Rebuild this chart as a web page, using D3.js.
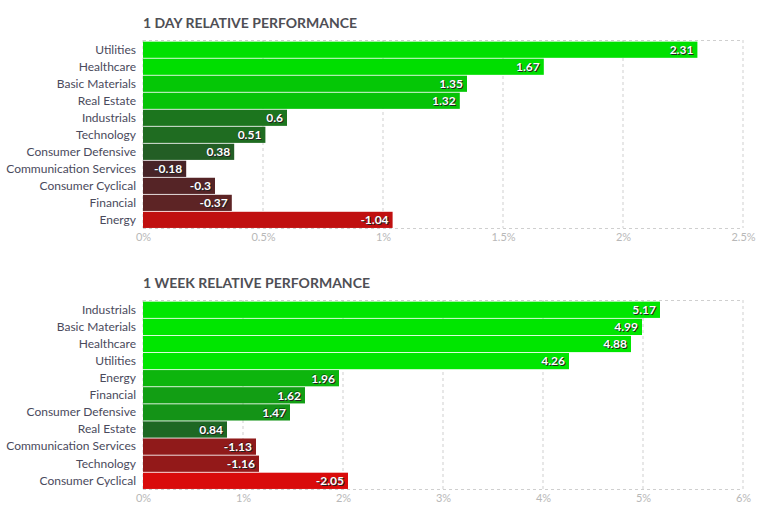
<!DOCTYPE html>
<html><head><meta charset="utf-8">
<script src="https://cdn.jsdelivr.net/npm/d3@7"></script>
<style>
body{margin:0;background:#fff;}
svg text{font-family:Lato,"Open Sans",sans-serif;}
</style></head>
<body><svg id="c" width="777" height="515"></svg>
<script>
// ---- data ----
const dayCategories = ["Utilities","Healthcare","Basic Materials","Real Estate","Industrials","Technology","Consumer Defensive","Communication Services","Consumer Cyclical","Financial","Energy"];
const dayValues = [2.31,1.67,1.35,1.32,0.6,0.51,0.38,-0.18,-0.3,-0.37,-1.04];
const dayTicks = [0,0.5,1,1.5,2,2.5];
const dayTickLabels = ["0%","0.5%","1%","1.5%","2%","2.5%"];

const weekCategories = ["Industrials","Basic Materials","Healthcare","Utilities","Energy","Financial","Consumer Defensive","Real Estate","Communication Services","Technology","Consumer Cyclical"];
const weekValues = [5.17,4.99,4.88,4.26,1.96,1.62,1.47,0.84,-1.13,-1.16,-2.05];
const weekTicks = [0,1,2,3,4,5,6];
const weekTickLabels = ["0%","1%","2%","3%","4%","5%","6%"];

// ---- drawing ----
const svg = d3.select("#c");

function drawChart(cfg){
  const g = svg.append("g");
  const x = d3.scaleLinear().domain([0, cfg.max]).range([143, 743]);
  const y = d3.scaleBand().domain(cfg.categories).range([cfg.top+0.8, cfg.bottom+0.8]).paddingInner(0.05).paddingOuter(0.05);
  const posColor = d3.scaleLinear().domain(cfg.posDomain).range(cfg.posRange).clamp(true);
  const negColor = d3.scaleLinear().domain(cfg.negDomain).range(cfg.negRange).clamp(true);

  g.append("text").attr("x",143).attr("y",cfg.top-12)
    .attr("font-size",14).attr("font-weight","bold").attr("fill","#4f4f55")
    .text(cfg.title);

  // grid
  g.selectAll(".grid").data(cfg.ticks).join("line")
    .attr("x1",d=>x(d)).attr("x2",d=>x(d))
    .attr("y1",cfg.top).attr("y2",cfg.bottom)
    .attr("stroke","#cfcfcf").attr("stroke-dasharray","3,3");
  g.append("line").attr("x1",143).attr("x2",743).attr("y1",cfg.top+0.5).attr("y2",cfg.top+0.5)
    .attr("stroke","#cfcfcf").attr("stroke-dasharray","3,3");
  g.append("line").attr("x1",143).attr("x2",743).attr("y1",cfg.bottom+0.5).attr("y2",cfg.bottom+0.5)
    .attr("stroke","#cfcfcf").attr("stroke-dasharray","3,3");

  // x axis labels
  const xa = g.append("g").attr("transform",`translate(0,${cfg.bottom})`)
    .call(d3.axisBottom(x).tickValues(cfg.ticks).tickSize(0).tickPadding(5).tickFormat((d,i)=>cfg.tickLabels[i]));
  xa.select(".domain").remove();
  xa.selectAll("text").attr("font-size",11).attr("fill","#b8b8b8").attr("font-family","Lato,sans-serif");

  // y labels
  const ya = g.append("g").attr("transform","translate(143,0)")
    .call(d3.axisLeft(y).tickSize(0).tickPadding(7));
  ya.select(".domain").remove();
  ya.selectAll("text").attr("font-size",12).attr("fill","#4a4a5c").attr("font-family","Lato,sans-serif");

  const data = cfg.categories.map((c,i)=>({c, v: cfg.values[i]}));
  g.selectAll(".bar").data(data).join("rect")
    .attr("x",x(0)).attr("y",d=>y(d.c))
    .attr("width",d=>x(Math.abs(d.v))-x(0))
    .attr("height",y.bandwidth())
    .attr("fill",d=>d.v>=0?posColor(d.v):negColor(d.v));

  g.selectAll(".val").data(data).join("text")
    .attr("x",d=>x(Math.abs(d.v))-4)
    .attr("y",d=>y(d.c)+y.bandwidth()/2)
    .attr("dy","0.36em").attr("text-anchor","end")
    .attr("font-size",12).attr("font-weight","bold").attr("fill","#fff")
    .style("text-shadow","1px 1px 0 #222, -0.5px -0.5px 0 rgba(0,0,0,0.4)")
    .text(d=>d.v);
}

drawChart({title:"1 DAY RELATIVE PERFORMANCE", categories:dayCategories, values:dayValues,
  ticks:dayTicks, tickLabels:dayTickLabels, max:2.5, top:40, bottom:228,
  posDomain:[0.3,1.4,1.7], posRange:["#255528","#04cc04","#00e000"],
  negDomain:[-0.1,-0.4,-1.04], negRange:["#3e2429","#602424","#c01010"]});

drawChart({title:"1 WEEK RELATIVE PERFORMANCE", categories:weekCategories, values:weekValues,
  ticks:weekTicks, tickLabels:weekTickLabels, max:6, top:300, bottom:489,
  posDomain:[0.8,2.0,4.0], posRange:["#1f6524","#0cb80c","#00e600"],
  negDomain:[-1.1,-2.05], negRange:["#8e1a1a","#d90b0b"]});
</script></body></html>
